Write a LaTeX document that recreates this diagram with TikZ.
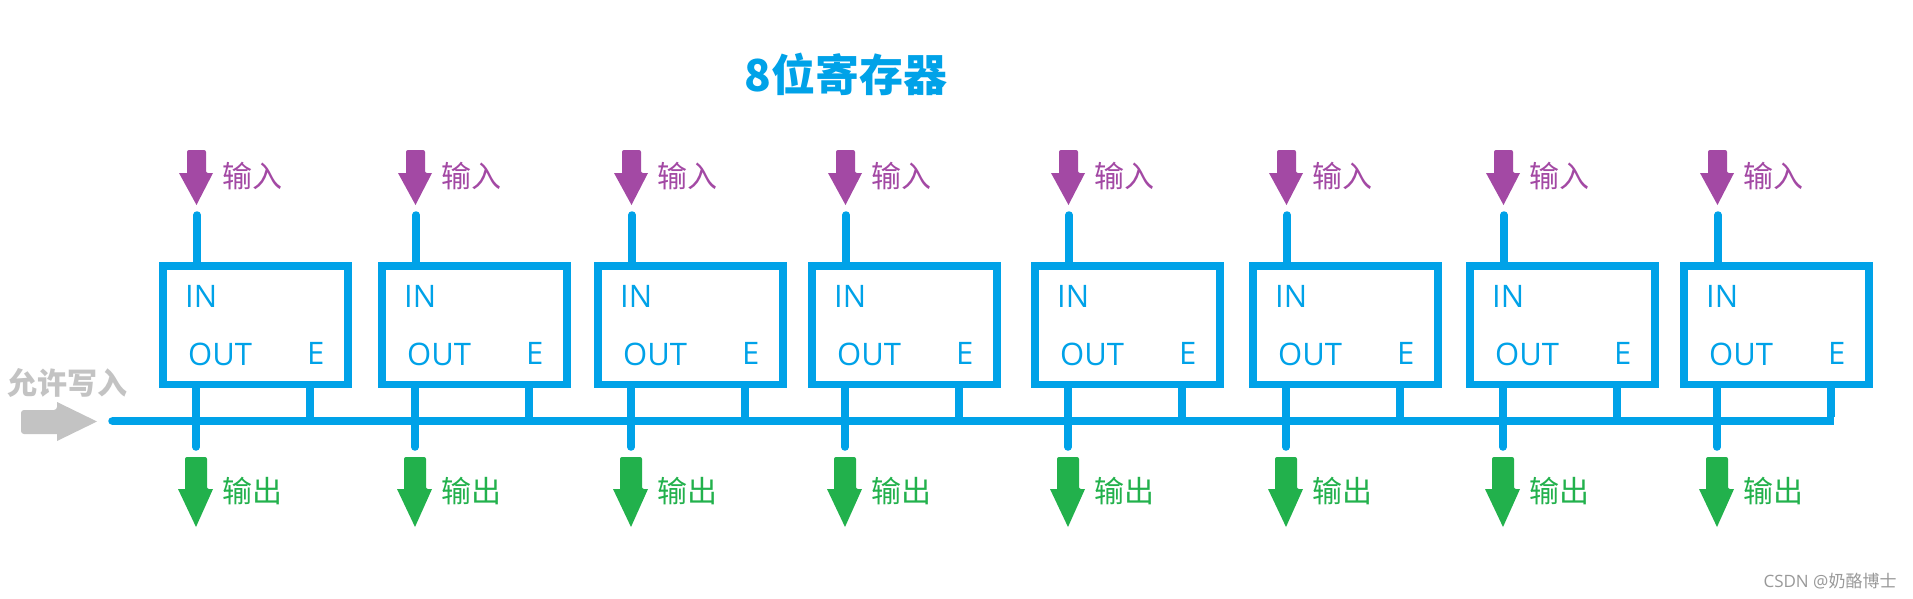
\documentclass[tikz,border=0pt]{standalone}
\usepackage{fontspec}
\setmainfont{Open Sans}
\newfontfamily\cjk{Noto Sans CJK SC}
\definecolor{regblue}{HTML}{00A2E8}
\definecolor{inpurple}{HTML}{A349A4}
\definecolor{outgreen}{HTML}{22B14C}
\definecolor{enagray}{HTML}{C3C3C3}
\definecolor{markgray}{HTML}{999999}
\begin{document}
\begin{tikzpicture}[x=1pt,y=-1pt,
  regbox/.style={draw=regblue,line width=7.5pt,minimum width=185pt,minimum height=118.5pt,inner sep=0pt},
  wire/.style={draw=regblue,line width=7.5pt},
  boxtext/.style={text=regblue,font=\fontsize{31}{36}\selectfont,inner sep=0pt,anchor=base west},
  inlabel/.style={text=inpurple,font=\cjk\fontsize{30}{36}\selectfont,inner sep=0pt,anchor=west},
  outlabel/.style={text=outgreen,font=\cjk\fontsize{30}{36}\selectfont,inner sep=0pt,anchor=west},
  titletext/.style={text=regblue,font=\cjk\bfseries\fontsize{44}{50}\selectfont,inner sep=0pt},
  enalabel/.style={text=enagray,font=\cjk\bfseries\fontsize{30}{36}\selectfont,inner sep=0pt},
  marktext/.style={text=markgray,font=\fontsize{17}{20}\selectfont,inner sep=0pt}]
\useasboundingbox (0,0) rectangle (1913,599);
\fill[white] (0,0) rectangle (1913,599);
\node[titletext] (title) at (846,74) {8位寄存器};
% enable bus
\coordinate (busL) at (112,421);
\coordinate (busR) at (1833.75,421);
\draw[wire] (busL) -- (busR);
\fill[regblue] (busL) circle[radius=3.75pt];
% enable input arrow
\fill[enagray,rounded corners=3pt] (57,434) -- (21,434) -- (21,410) -- (57,410) [sharp corners] -- (57,402) -- (97,421.5) -- (57,441) -- cycle;
\node[enalabel] (enalbl) at (67,383) {允许写入};
\foreach \L [count=\i] in {159,378,594,808,1031,1249,1466,1680} {
  \node[regbox] (r\i) at (\L+96.5,325.25) {};
  \node[boxtext] (tin\i) at (\L+26,307) {IN};
  \node[boxtext] (tout\i) at (\L+29,365) {OUT};
  \node[boxtext] (te\i) at (\L+148,364) {E};
  % input
  \coordinate (in\i) at (\L+38,215);
  \draw[wire,line cap=round] (in\i) -- (in\i |- r\i.north);
  \fill[inpurple,rounded corners=2pt] (\L+28,173) -- (\L+28,150) -- (\L+47,150) -- (\L+47,173) [sharp corners] -- (\L+54,173) -- (\L+37.5,205) -- (\L+20,173) -- cycle;
  \node[inlabel] (lin\i) at (\L+63,176) {输入};
  % output
  \coordinate (out\i) at (\L+37,447);
  \draw[wire,line cap=round] (out\i |- r\i.south) -- (out\i);
  \fill[outgreen,rounded corners=2pt] (\L+26,489) -- (\L+26,457) -- (\L+48,457) -- (\L+48,489) [sharp corners] -- (\L+54,489) -- (\L+37,527) -- (\L+19,489) -- cycle;
  \node[outlabel] (lout\i) at (\L+63,491) {输出};
  % enable
  \coordinate (e\i) at (\L+151,421);
  \draw[wire] (e\i |- r\i.south) -- ([yshift=3.75pt]e\i);
}
\node[marktext] (mark) at (1830,581) {CSDN @{\cjk 奶酪博士}};
\end{tikzpicture}
\end{document}
